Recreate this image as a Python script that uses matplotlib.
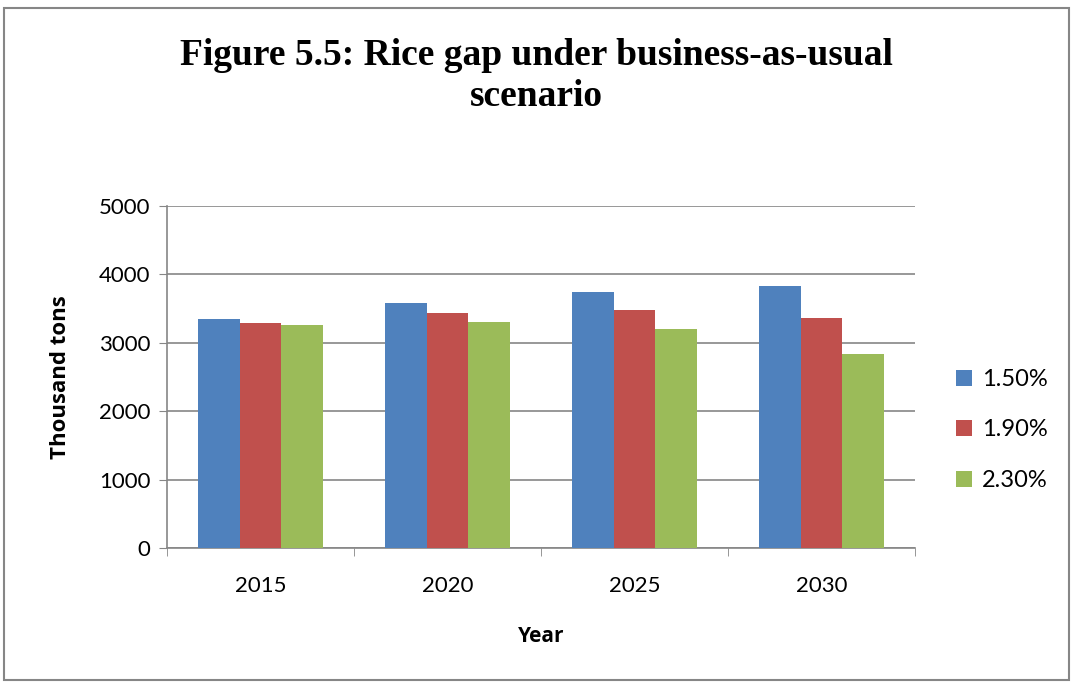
import matplotlib
matplotlib.use("Agg")
import matplotlib.pyplot as plt
import numpy as np
from matplotlib.patches import Rectangle

years = ["2015", "2020", "2025", "2030"]
series = ["1.50%", "1.90%", "2.30%"]
gap_150 = [3345, 3580, 3740, 3825]
gap_190 = [3290, 3435, 3475, 3360]
gap_230 = [3260, 3300, 3200, 2835]
colors = ["#4f81bd", "#c0504d", "#9bbb59"]

fig = plt.figure(figsize=(10.73, 6.83), dpi=100)
fig.patches.append(Rectangle((0.004, 0.004), 0.992, 0.985, transform=fig.transFigure,
                             fill=False, edgecolor="#868686", linewidth=1.5))

ax = fig.add_axes([0.1556, 0.1977, 0.6971, 0.5007])

x = np.arange(len(years))
w = 0.222
for i, (vals, name) in enumerate(zip([gap_150, gap_190, gap_230], series)):
    ax.bar(x + (i - 1) * w, vals, width=w, color=colors[i], label=name, zorder=3)

ax.set_xlim(-0.5, len(years) - 0.5)
ax.set_ylim(0, 5000)
ax.set_yticks(range(0, 5001, 1000))
ax.set_xticks(x)
ax.set_xticklabels(years)
ax.set_xticks(np.arange(-0.5, len(years), 1), minor=True)
ax.tick_params(axis="x", which="major", length=0, pad=20, labelsize=16)
ax.tick_params(axis="x", which="minor", length=6, color="#868686", direction="out")
ax.tick_params(axis="y", length=6, color="#868686", labelsize=16, pad=6)

ax.grid(axis="y", color="#868686", linewidth=1.2, zorder=0)
for s in ["top", "right"]:
    ax.spines[s].set_visible(False)
for s in ["left", "bottom"]:
    ax.spines[s].set_color("#868686")
    ax.spines[s].set_linewidth(1.2)

for lbl in ax.get_xticklabels() + ax.get_yticklabels():
    lbl.set_fontfamily("Lato")

ax.set_ylabel("Thousand tons", fontsize=16, fontweight="bold", family="Open Sans", labelpad=20)
ax.set_xlabel("Year", fontsize=15, fontweight="bold", family="Open Sans", labelpad=22)

fig.text(0.5, 0.945, "Figure 5.5: Rice gap under business-as-usual\nscenario",
         ha="center", va="top", fontsize=27, fontweight="bold",
         family="Liberation Serif", linespacing=1.22)

ax.legend(loc="center left", bbox_to_anchor=(1.027, 0.345), frameon=False,
          prop={"family": "Lato", "size": 17}, handlelength=0.65, handleheight=0.65,
          labelspacing=1.25, handletextpad=0.45)

fig.savefig("out.png", dpi=100)
